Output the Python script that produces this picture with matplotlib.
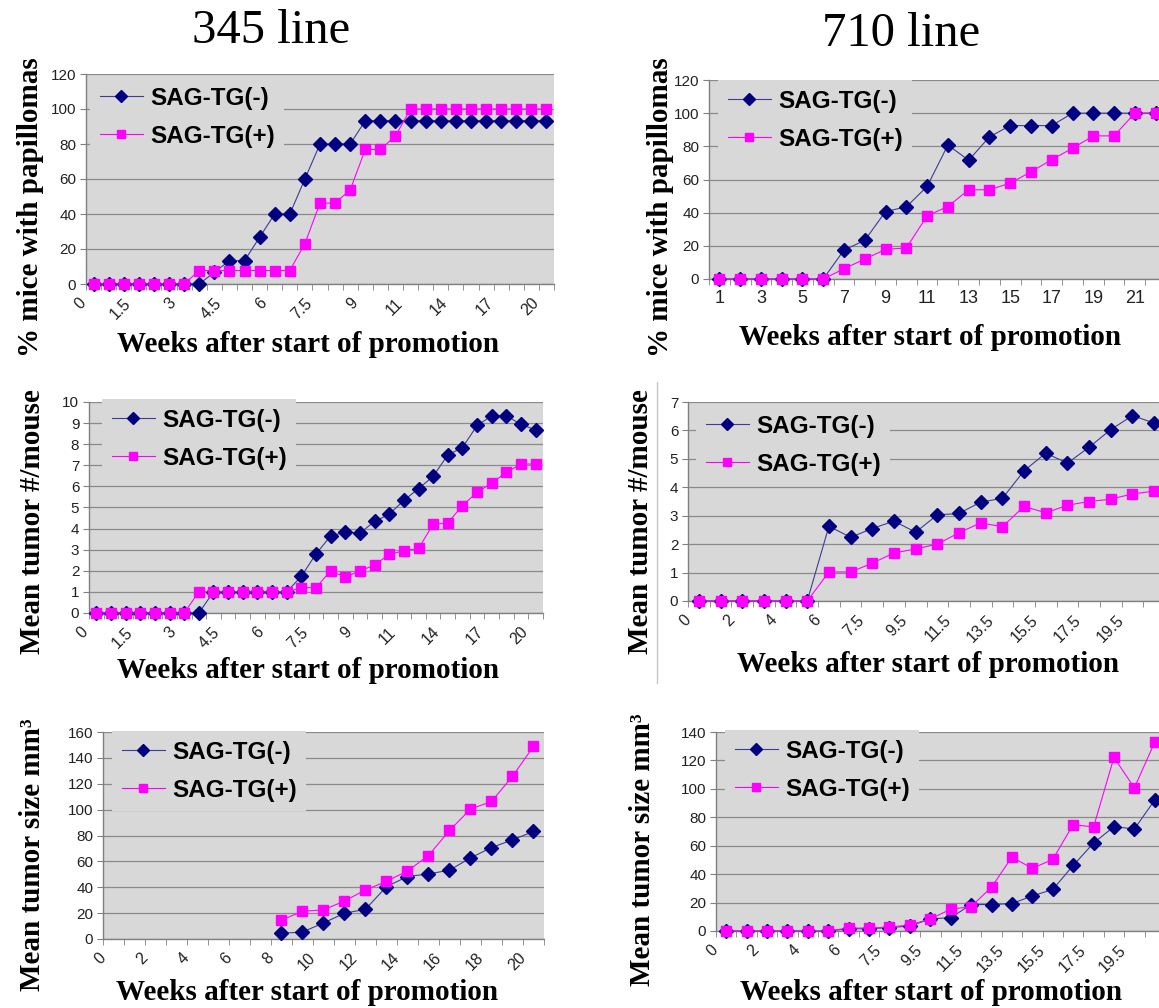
import numpy as np
import matplotlib
matplotlib.use('Agg')
import matplotlib.pyplot as plt
from matplotlib.lines import Line2D
from matplotlib.transforms import ScaledTranslation

W, H = 1159, 1008                                   # output size in pixels

# ---- data ----
# 345 line: weeks 0..20 (31 categories)
weeks_345 = [0, 0.5, 1, 1.5, 2, 2.5, 3, 3.5, 4, 4.5, 5, 5.5, 6, 6.5, 7, 7.5, 8, 8.5,
             9, 9.5, 10, 11, 12, 13, 14, 15, 16, 17, 18, 19, 20]
pap_345_neg = [0, 0, 0, 0, 0, 0, 0, 0, 6.7, 13.3, 13.3, 26.7, 40, 40, 60, 80, 80, 80,
               93.3, 93.3, 93.3, 93.3, 93.3, 93.3, 93.3, 93.3, 93.3, 93.3, 93.3, 93.3, 93.3]
pap_345_pos = [0, 0, 0, 0, 0, 0, 0, 7.7, 7.7, 7.7, 7.7, 7.7, 7.7, 7.7, 23.1, 46.2, 46.2, 53.8,
               76.9, 76.9, 84.6, 100, 100, 100, 100, 100, 100, 100, 100, 100, 100]
num_345_neg = [0, 0, 0, 0, 0, 0, 0, 0, 1.0, 1.0, 1.0, 1.0, 1.0, 1.0, 1.74, 2.8, 3.65, 3.84,
               3.79, 4.34, 4.68, 5.34, 5.89, 6.48, 7.49, 7.84, 8.89, 9.34, 9.34, 8.94, 8.67]
num_345_pos = [0, 0, 0, 0, 0, 0, 0, 1.0, 1.0, 1.0, 1.0, 1.0, 1.0, 1.0, 1.2, 1.2, 2.0, 1.7,
               2.0, 2.27, 2.78, 2.95, 3.06, 4.2, 4.27, 5.09, 5.72, 6.16, 6.67, 7.06, 7.06]
# tumor size, weeks 0..20 (21 categories), nothing measured before week 8
size_weeks_345 = [0, 1, 2, 3, 4, 5, 6, 7, 8, 9, 10, 11, 12, 13, 14, 15, 16, 17, 18, 19, 20]
size_345_neg = [None, None, None, None, None, None, None, None, 4.4, 5.4, 12.4, 19.9, 23.0,
                40.5, 48.3, 50.3, 53.2, 62.7, 70.7, 76.6, 83.1]
size_345_pos = [None, None, None, None, None, None, None, None, 14.7, 21.4, 22.5, 29.4, 37.9,
                44.6, 52.6, 64.5, 83.9, 100.4, 106.3, 125.7, 148.9]

# 710 line
weeks_710a = [1, 2, 3, 4, 5, 6, 7, 8, 9, 10, 11, 12, 13, 14, 15, 16, 17, 18, 19, 20, 21, 22]
pap_710_neg = [0, 0, 0, 0, 0, 0, 17.5, 23.3, 40.7, 43.5, 55.8, 80.8, 71.6, 85.7, 92.5, 92.5,
               92.5, 100, 100, 100, 100, 100]
pap_710_pos = [0, 0, 0, 0, 0, 0, 6.2, 12.0, 17.9, 18.7, 38.1, 43.7, 53.8, 53.8, 57.8, 64.6,
               72.0, 78.8, 86.3, 86.3, 100, 100]
weeks_710b = [0, 1, 2, 3, 4, 5, 6, 6.5, 7.5, 8.5, 9.5, 10.5, 11.5, 12.5, 13.5, 14.5, 15.5,
              16.5, 17.5, 18.5, 19.5, 20.5]
num_710_neg = [0, 0, 0, 0, 0, 0, 2.63, 2.24, 2.55, 2.81, 2.42, 3.03, 3.08, 3.48, 3.61, 4.58,
               5.2, 4.85, 5.41, 6.03, 6.52, 6.26]
num_710_pos = [0, 0, 0, 0, 0, 0, 1.02, 1.02, 1.33, 1.69, 1.83, 2.0, 2.4, 2.75, 2.61, 3.33,
               3.1, 3.37, 3.5, 3.58, 3.77, 3.86]
size_710_neg = [0, 0, 0, 0, 0, 0, 1.6, 1.6, 2.4, 3.5, 8.5, 9.4, 18.6, 18.6, 19.3, 24.7,
                29.2, 46.1, 61.9, 73.4, 71.8, 92.2]
size_710_pos = [0, 0, 0, 0, 0, 0, 2.1, 2.0, 2.8, 4.2, 8.5, 15.3, 17.2, 30.8, 52.0, 44.0,
                50.4, 74.8, 73.2, 122.1, 100.7, 132.9]

labels = ['SAG-TG(-)', 'SAG-TG(+)']

BG = '#d8d8d8'
GRID = '#8a8a8a'
NAVY = '#000080'
NAVY_LINE = '#3c3c96'
PINK = '#ff00ff'
LEG_FS = 17.5

fig = plt.figure(figsize=(W / 100, H / 100), dpi=100)
fig.patch.set_facecolor('white')


def fmt(v):
    return str(int(v)) if float(v).is_integer() else str(v)


def panel(box, weeks, neg, pos, ymax, ystep, every, rotate, leg):
    left, top, right, bottom = box
    ax = fig.add_axes([left / W, 1 - bottom / H, (right - left) / W, (bottom - top) / H])
    ax.set_facecolor(BG)
    n = len(weeks)
    x = np.arange(n)
    ax.plot(x, np.array(neg, dtype=float), color=NAVY_LINE, lw=0.8, marker='D', ms=7.5,
            mfc=NAVY, mec=NAVY, label=labels[0], zorder=3, clip_on=False)
    ax.plot(x, np.array(pos, dtype=float), color=PINK, lw=0.8, marker='s', ms=6.5,
            label=labels[1], zorder=3, clip_on=False)
    ax.set_xlim(-0.5, n - 0.5)
    ax.set_ylim(0, ymax)
    ax.set_yticks(np.arange(0, ymax + 1e-9, ystep))
    ax.set_yticklabels([fmt(v) for v in np.arange(0, ymax + 1e-9, ystep)],
                       family='Liberation Sans', fontsize=11, color='#222222')
    ax.yaxis.grid(True, color=GRID, lw=0.9)
    ax.set_axisbelow(True)
    for s in ['top', 'right']:
        ax.spines[s].set_visible(False)
    for s in ['left', 'bottom']:
        ax.spines[s].set_color('#808080')
        ax.spines[s].set_linewidth(1)
    ax.tick_params(axis='y', length=4, color='#808080', pad=3)

    # tick marks between categories, labels on every few categories
    ax.set_xticks(np.arange(n + 1) - 0.5, minor=True)
    ax.tick_params(axis='x', which='minor', length=4, color='#808080', direction='out')
    idx = x[every[0]::every[1]]
    ax.set_xticks(idx)
    if rotate:
        ax.set_xticklabels([fmt(weeks[i]) for i in idx], rotation=45, ha='right',
                           va='center', rotation_mode='anchor',
                           family='Liberation Sans', fontsize=11.5, color='#222222')
        ax.tick_params(axis='x', which='major', length=0, pad=12)
        off = ScaledTranslation(-7.5 / 72, 0, fig.dpi_scale_trans)
        for t in ax.get_xticklabels():
            t.set_transform(t.get_transform() + off)
    else:
        ax.set_xticklabels([fmt(weeks[i]) for i in idx], family='Liberation Sans',
                           fontsize=13, color='#222222')
        ax.tick_params(axis='x', which='major', length=0, pad=8)

    fs_px = LEG_FS * 100 / 72
    lx = leg[0] - 0.4 * fs_px
    ly = leg[1] - (0.4 * fs_px + 12)
    lg = ax.legend(loc='upper left', bbox_to_anchor=(lx / W, 1 - ly / H),
                   bbox_transform=fig.transFigure,
                   prop={'family': 'Liberation Sans', 'weight': 'bold', 'size': LEG_FS},
                   frameon=True, edgecolor='none', framealpha=1, fancybox=False,
                   borderaxespad=0, borderpad=0.4, handlelength=1.75, handletextpad=0.3,
                   labelspacing=0.6, numpoints=1, markerscale=0.85)
    lg.get_frame().set_facecolor(BG)
    return ax


panel((86, 74, 554, 284), weeks_345, pap_345_neg, pap_345_pos, 120, 20, (0, 3), True, (100, 99))
panel((709, 80, 1166, 279), weeks_710a, pap_710_neg, pap_710_pos, 120, 20, (0, 2), False, (728, 102))
panel((89, 402, 543, 613), weeks_345, num_345_neg, num_345_pos, 10, 1, (0, 3), True, (112, 421))
panel((688, 402, 1165, 601), weeks_710b, num_710_neg, num_710_pos, 7, 1, (0, 2), True, (706, 427))
panel((103, 732, 544, 939), size_weeks_345, size_345_neg, size_345_pos, 160, 20, (0, 2), True, (122, 753))
panel((716, 732, 1165, 931), weeks_710b, size_710_neg, size_710_pos, 140, 20, (0, 2), True, (735, 752))

# column titles
fig.text(271 / W, 1 - 31 / H, '345 line', ha='center', va='center',
         family='Liberation Serif', fontsize=35)
fig.text(901 / W, 1 - 34 / H, '710 line', ha='center', va='center',
         family='Liberation Serif', fontsize=35)

# axis titles
lab = dict(family='Liberation Serif', weight='bold', fontsize=21, ha='center', va='center')
xl = 'Weeks after start of promotion'
for (xp, yp) in [(308, 344), (308, 671), (307, 993), (930, 338), (928, 665), (931, 992)]:
    fig.text(xp / W, 1 - yp / H, xl, **lab)
for (xp, yp, s) in [(31, 207, '% mice with papillomas'), (33, 522, 'Mean tumor #/mouse'),
                    (33, 855, 'Mean tumor size mm³'), (661, 207, '% mice with papillomas'),
                    (641, 522, 'Mean tumor #/mouse'), (643, 850, 'Mean tumor size mm³')]:
    fig.text(xp / W, 1 - yp / H, s, rotation=90, **lab)

# thin frame line left of the middle right chart
fig.add_artist(Line2D([657 / W, 657 / W], [1 - 382 / H, 1 - 683 / H], color='#c8c8c8', lw=1))

fig.savefig('out.png', dpi=100)
